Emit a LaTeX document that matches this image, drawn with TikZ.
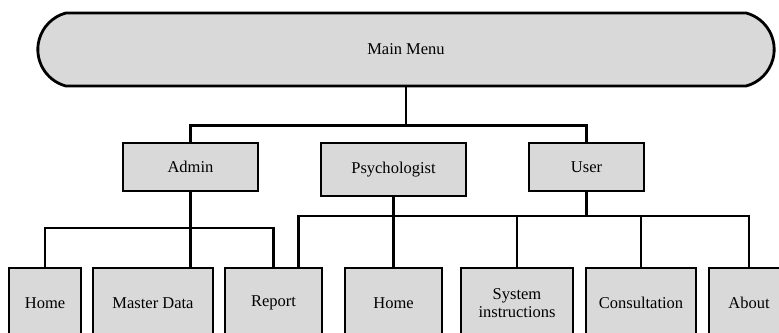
\documentclass[tikz,border=0pt]{standalone}
\usepackage{fontspec}
\setmainfont{Liberation Serif}
\usepackage{tikz}
\usetikzlibrary{positioning, shapes.misc}
\definecolor{boxgray}{HTML}{D9D9D9}

\begin{document}
\begin{tikzpicture}[
  x=1pt, y=-1pt,
  box/.style={rectangle,draw,fill=boxgray,line width=2.8pt,inner sep=0pt,
    font=\fontsize{16.5}{18}\selectfont,align=center},
  menubox/.style={rounded rectangle,rounded rectangle arc length=150,draw,
    fill=boxgray,line width=2.8pt,minimum width=743pt,minimum height=73pt,
    font=\fontsize{16.5}{18}\selectfont},
  link/.style={line width=2.8pt}
]
  \clip (0,0) rectangle (779,332);
  \node[menubox] (menu) at (406,49.5) {Main Menu};

  \node[box,minimum width=135pt,minimum height=48pt] (admin) at (190.5,167)   {Admin};
  \node[box,minimum width=145pt,minimum height=53pt] (psych) at (393.5,169.5) {Psychologist};
  \node[box,minimum width=115pt,minimum height=48pt] (user)  at (586.5,167)   {User};

  \node[box,minimum width=72pt, minimum height=70pt] (home)    at (45,303)    {Home};
  \node[box,minimum width=120pt,minimum height=70pt] (master)  at (153,303)   {Master Data};
  \node[box,minimum width=97pt, minimum height=70pt] (report)  at (273.5,303) {Report};
  \node[box,minimum width=97pt, minimum height=70pt] (phome)   at (393.5,303) {Home};
  \node[box,minimum width=112pt,minimum height=70pt] (sysinfo) at (517,303)   {System\\instructions};
  \node[box,minimum width=110pt,minimum height=70pt] (consult) at (641,303)   {Consultation};
  \node[box,minimum width=80pt, minimum height=70pt] (about)   at (749,303)   {About};

  % junctions
  \coordinate (top) at (406,125.5);
  \coordinate (ja)  at (190.5,228);
  \coordinate (ju)  at (586.5,216);

  \draw[link] (menu.south) -- (top);
  \draw[link] (admin.north) |- (top) -| (user.north);

  \draw[link] (admin.south) -- (ja);
  \draw[link] (home.north) |- (ja) -| (report.north);
  \draw[link] (ja) -- (ja |- master.north);

  \draw[link] (psych.south) -- (phome.north);

  \draw[link] (user.south) -- (ju);
  \draw[link] ([xshift=25pt]report.north) |- (ju) -| (about.north);
  \draw[link] (sysinfo.north) |- (ju);
  \draw[link] (consult.north) |- (ju);
\end{tikzpicture}
\end{document}
